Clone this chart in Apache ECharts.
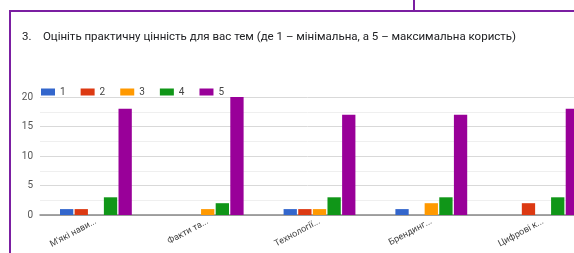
<!DOCTYPE html>
<html><head><meta charset="utf-8">
<script src="https://cdn.jsdelivr.net/npm/echarts@6/dist/echarts.min.js"></script>
<style>html,body{margin:0;padding:0;background:#fff}#c{width:574px;height:253px}</style>
</head><body><div id="c"></div>
<script>
const categories = ["М'які нави...", "Факти та...", "Технології...", "Брендинг...", "Цифрові к..."];
const seriesNames = ["1", "2", "3", "4", "5"];
const s1 = [1, 0, 1, 1, 0];
const s2 = [1, 0, 1, 0, 2];
const s3 = [0, 1, 1, 2, 0];
const s4 = [3, 2, 3, 3, 3];
const s5 = [18, 20, 17, 17, 18];
const yTicks = [0, 5, 10, 15, 20];
const titleText = "3.    Оцініть практичну цінність для вас тем (де 1 – мінімальна, а 5 – максимальна користь)";

const colors = ["#3366cc", "#dc3912", "#ff9900", "#109618", "#990099"];
const values = [s1, s2, s3, s4, s5];
const chart = echarts.init(document.getElementById('c'), null, {renderer: 'canvas'});
const frame = '#7b1fa2';
chart.setOption({
  animation: false,
  textStyle: {fontFamily: 'Roboto, "Noto Sans", sans-serif'},
  title: {
    text: titleText, left: 17, top: 26,
    textStyle: {fontSize: 11.5, fontWeight: 'normal', color: '#202124', fontFamily: 'Roboto'}
  },
  graphic: [
    {type: 'line', shape: {x1: 10, y1: 11, x2: 574, y2: 11}, style: {stroke: frame, lineWidth: 2}, z: 10},
    {type: 'line', shape: {x1: 10, y1: 10, x2: 10, y2: 253}, style: {stroke: frame, lineWidth: 2}, z: 10},
    {type: 'line', shape: {x1: 414, y1: 0, x2: 414, y2: 11}, style: {stroke: frame, lineWidth: 2}, z: 10}
  ],
  legend: {
    left: 36, top: 82, itemWidth: 14, itemHeight: 7, itemGap: 15,
    icon: 'rect',
    textStyle: {fontSize: 10, color: '#444', fontFamily: 'Roboto'},
    data: seriesNames
  },
  grid: {left: 40, top: 97, width: 559, height: 118, outerBoundsMode: 'none', containLabel: false},
  xAxis: {
    type: 'category', data: categories,
    axisTick: {show: false},
    axisLine: {lineStyle: {color: '#888', width: 1.5}},
    axisLabel: {rotate: 28, fontSize: 9, color: '#444', margin: 6, interval: 0, fontFamily: 'Roboto'}
  },
  yAxis: {
    type: 'value', min: yTicks[0], max: yTicks[yTicks.length - 1], interval: 5,
    axisLine: {show: false}, axisTick: {show: false},
    axisLabel: {fontSize: 10, color: '#555', margin: 7, fontFamily: 'Roboto'},
    splitLine: {lineStyle: {color: '#d9d9d9'}},
    minorTick: {show: false, splitNumber: 2},
    minorSplitLine: {show: true, lineStyle: {color: '#efefef'}}
  },
  series: seriesNames.map((n, i) => ({
    name: n, type: 'bar', data: values[i],
    barWidth: 13.3, barGap: '10%',
    itemStyle: {color: colors[i]}
  }))
});
</script></body></html>
